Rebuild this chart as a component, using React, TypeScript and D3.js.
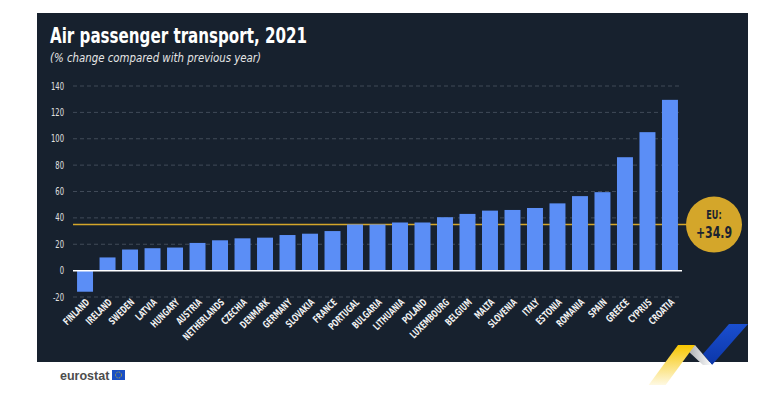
import * as d3 from 'd3';
import { useEffect, useRef } from 'react';

const countries = [
  'FINLAND', 'IRELAND', 'SWEDEN', 'LATVIA', 'HUNGARY', 'AUSTRIA', 'NETHERLANDS',
  'CZECHIA', 'DENMARK', 'GERMANY', 'SLOVAKIA', 'FRANCE', 'PORTUGAL', 'BULGARIA',
  'LITHUANIA', 'POLAND', 'LUXEMBOURG', 'BELGIUM', 'MALTA', 'SLOVENIA', 'ITALY',
  'ESTONIA', 'ROMANIA', 'SPAIN', 'GREECE', 'CYPRUS', 'CROATIA',
];
const changes = [
  -16, 10, 16, 17, 17.5, 21, 23, 24.5, 25, 27, 28, 30, 35, 35, 36.5, 36.5, 40.5,
  43, 45.5, 46, 47.5, 51, 56.5, 59.5, 86, 105, 129.5,
];
const yTicks = [-20, 0, 20, 40, 60, 80, 100, 120, 140];
const euValue = 34.9;

const W = 777;
const H = 393;
const PLOT = { left: 73, right: 682, top: 86, bottom: 297 };
const FONT = '"DejaVu Sans Condensed", "DejaVu Sans", sans-serif';
// squeeze the glyphs horizontally, the original uses a condensed face
const SQUEEZE = 'scale(0.72,1)';

export default function App() {
  const ref = useRef<SVGSVGElement | null>(null);

  useEffect(() => {
    const svg = d3.select(ref.current);
    svg.selectAll('*').remove();

    // dark panel
    svg.append('rect').attr('x', 37).attr('y', 13).attr('width', 711).attr('height', 349).attr('fill', '#17212e');

    svg.append('text').attr('x', 50).attr('y', 43).attr('fill', '#ffffff')
      .attr('font-family', FONT).attr('font-weight', 'bold').attr('font-size', 22)
      .attr('textLength', 257).attr('lengthAdjust', 'spacingAndGlyphs')
      .text('Air passenger transport, 2021');
    svg.append('text').attr('x', 50).attr('y', 62).attr('fill', '#e6e6e6')
      .attr('font-family', FONT).attr('font-style', 'italic').attr('font-size', 11.5)
      .attr('textLength', 211).attr('lengthAdjust', 'spacingAndGlyphs')
      .text('(% change compared with previous year)');

    const x = d3.scaleBand<string>().domain(countries)
      .range([PLOT.left, PLOT.right]).paddingInner(0.29).paddingOuter(0.18);
    const y = d3.scaleLinear().domain([-20, 140]).range([PLOT.bottom, PLOT.top]);

    // grid
    const grid = svg.append('g');
    yTicks.filter((t) => t !== 0).forEach((t) => {
      grid.append('line').attr('x1', PLOT.left).attr('x2', PLOT.right)
        .attr('y1', y(t)).attr('y2', y(t))
        .attr('stroke', '#4b5563').attr('stroke-width', 0.8).attr('stroke-dasharray', '4,3');
    });

    // y tick labels
    svg.append('g').selectAll('text').data(yTicks).join('text')
      .attr('transform', (d) => `translate(64,${y(d) + 3.5}) ${SQUEEZE}`)
      .attr('text-anchor', 'end')
      .attr('fill', '#e0e0e0').attr('font-family', FONT).attr('font-size', 10.5)
      .text((d) => d);

    // EU line
    svg.append('line').attr('x1', PLOT.left).attr('x2', 700)
      .attr('y1', y(euValue)).attr('y2', y(euValue))
      .attr('stroke', '#d4a62a').attr('stroke-width', 1.5);

    // bars
    svg.append('g').selectAll('rect').data(countries).join('rect')
      .attr('x', (d) => x(d) as number)
      .attr('width', x.bandwidth())
      .attr('y', (_, i) => y(Math.max(0, changes[i])))
      .attr('height', (_, i) => Math.abs(y(changes[i]) - y(0)))
      .attr('fill', '#5b8ef6');

    // zero line
    svg.append('line').attr('x1', PLOT.left).attr('x2', PLOT.right)
      .attr('y1', y(0)).attr('y2', y(0)).attr('stroke', '#ffffff').attr('stroke-width', 1.5);

    // x labels
    svg.append('g').selectAll('text').data(countries).join('text')
      .attr('transform', (d) => `translate(${(x(d) as number) + x.bandwidth() / 2 + 5},${303}) rotate(-45) ${SQUEEZE}`)
      .attr('text-anchor', 'end').attr('fill', '#f0f0f0')
      .attr('font-family', FONT).attr('font-weight', 'bold').attr('font-size', 10)
      .text((d) => d);

    // EU bubble
    const cy = y(euValue);
    svg.append('circle').attr('cx', 714).attr('cy', cy).attr('r', 28).attr('fill', '#d4a62a');
    svg.append('text').attr('transform', `translate(714,${cy - 6}) ${SQUEEZE}`).attr('text-anchor', 'middle')
      .attr('fill', '#1b2330').attr('font-family', FONT).attr('font-weight', 'bold').attr('font-size', 12.5)
      .text('EU:');
    svg.append('text').attr('transform', `translate(714,${cy + 13}) scale(0.76,1)`).attr('text-anchor', 'middle')
      .attr('fill', '#1b2330').attr('font-family', FONT).attr('font-weight', 'bold').attr('font-size', 16)
      .text('+34.9');

    // decoration
    const defs = svg.append('defs');
    const gy = defs.append('linearGradient').attr('id', 'gy').attr('x1', 0).attr('y1', 0).attr('x2', 0).attr('y2', 1);
    gy.append('stop').attr('offset', '0%').attr('stop-color', '#f7c600');
    gy.append('stop').attr('offset', '100%').attr('stop-color', '#ffffff');
    const gg = defs.append('linearGradient').attr('id', 'gg').attr('x1', 0).attr('y1', 0).attr('x2', 1).attr('y2', 0);
    gg.append('stop').attr('offset', '0%').attr('stop-color', '#a9acb0');
    gg.append('stop').attr('offset', '100%').attr('stop-color', '#ffffff');
    const gb = defs.append('linearGradient').attr('id', 'gb').attr('x1', 0).attr('y1', 0).attr('x2', 0).attr('y2', 1);
    gb.append('stop').attr('offset', '0%').attr('stop-color', '#1a4fd0');
    gb.append('stop').attr('offset', '100%').attr('stop-color', '#0c36a8');
    svg.append('polygon').attr('points', '729,324 748,324 712,365 703,354').attr('fill', 'url(#gb)');
    svg.append('polygon').attr('points', '688,351 695,345 712,365 703,365').attr('fill', 'url(#gg)');
    svg.append('polygon').attr('points', '678,345 695,345 662,390 645,390').attr('fill', 'url(#gy)');

    // eurostat logo
    svg.append('text').attr('x', 60).attr('y', 380).attr('fill', '#4d4d4d')
      .attr('font-family', '"Liberation Sans", Arial, sans-serif').attr('font-weight', 'bold').attr('font-size', 12.5)
      .text('eurostat');
    svg.append('rect').attr('x', 112).attr('y', 370).attr('width', 13).attr('height', 10).attr('fill', '#1a4fc4');
    svg.append('circle').attr('cx', 118.5).attr('cy', 375).attr('r', 3).attr('fill', 'none')
      .attr('stroke', '#f5d000').attr('stroke-width', 0.8).attr('stroke-dasharray', '0.8,0.8');
  }, []);

  return (
    <div style={{ margin: -8, width: W, height: H, background: '#ffffff' }}>
      <svg ref={ref} width={W} height={H} style={{ display: 'block' }} />
    </div>
  );
}
